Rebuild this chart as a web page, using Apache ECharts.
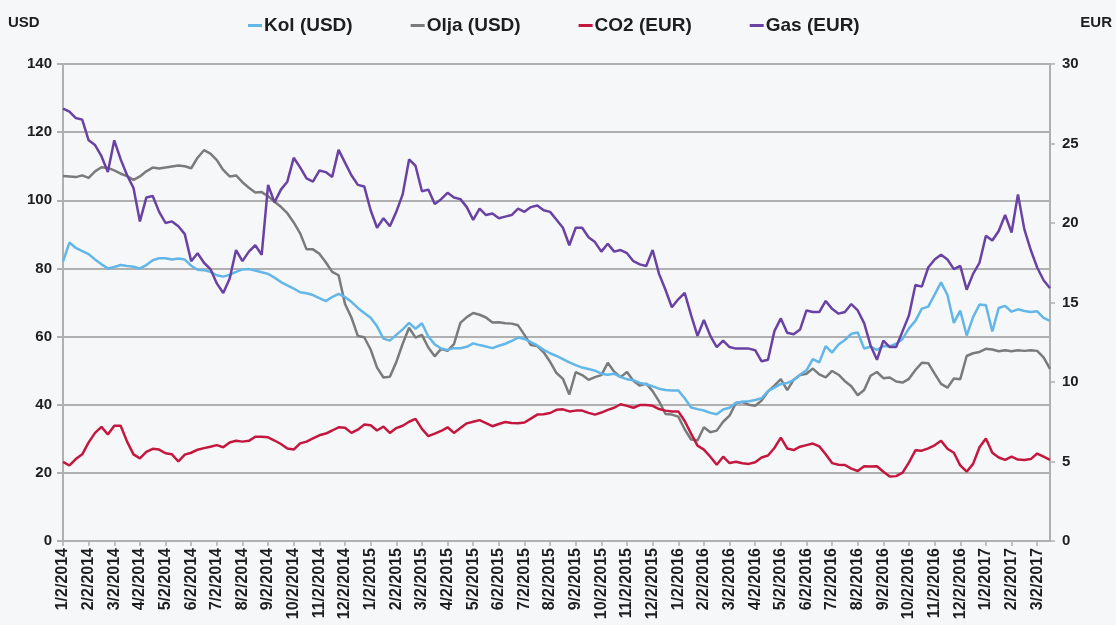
<!DOCTYPE html>
<html>
<head>
<meta charset="utf-8">
<script src="https://cdn.jsdelivr.net/npm/echarts@6/dist/echarts.min.js"></script>
<style>
html,body{margin:0;padding:0;background:#f6f7f9;}
#chart{width:1116px;height:625px;}
</style>
</head>
<body>
<div id="chart"></div>
<script>
// Month tick labels (one per month, first sample of each month)
const monthLabels = [
 '1/2/2014','2/2/2014','3/2/2014','4/2/2014','5/2/2014','6/2/2014','7/2/2014','8/2/2014','9/2/2014','10/2/2014','11/2/2014','12/2/2014',
 '1/2/2015','2/2/2015','3/2/2015','4/2/2015','5/2/2015','6/2/2015','7/2/2015','8/2/2015','9/2/2015','10/2/2015','11/2/2015','12/2/2015',
 '1/2/2016','2/2/2016','3/2/2016','4/2/2016','5/2/2016','6/2/2016','7/2/2016','8/2/2016','9/2/2016','10/2/2016','11/2/2016','12/2/2016',
 '1/2/2017','2/2/2017','3/2/2017'
];
// Sample days within each month (weekly samples)
const sampleDays = [2, 9, 16, 23];
const lastMonthSamples = 3;

// Kol (USD)
const kol = [
 82.0,87.6,86.0,85.1, 84.2,82.6,81.2,80.0, 80.4,81.0,80.7,80.5, 80.0,81.0,82.4,83.0,
 83.0,82.6,82.9,82.6, 80.8,79.6,79.5,79.0, 78.0,77.6,78.1,79.0, 79.7,79.8,79.4,78.9,
 78.4,77.3,76.0,75.0, 74.1,73.0,72.7,72.2, 71.3,70.4,71.6,72.5, 71.6,70.2,68.4,66.9,
 65.5,63.0,59.4,58.8, 60.5,62.1,64.0,62.3, 63.9,60.0,57.7,56.5, 56.1,56.6,56.6,57.0,
 58.0,57.5,57.1,56.6, 57.3,57.9,58.7,59.7, 59.3,58.4,57.4,56.1, 55.1,54.3,53.4,52.4,
 51.6,50.9,50.5,50.0, 49.1,48.8,49.1,48.1, 47.5,47.2,46.4,46.0, 45.4,44.7,44.3,44.2,
 44.2,41.9,39.2,38.7, 38.3,37.6,37.2,38.6, 39.1,40.6,40.9,41.0, 41.4,41.9,44.0,45.0,
 46.1,46.4,47.2,48.8, 50.1,53.4,52.4,57.2, 55.3,57.7,59.0,60.8, 61.2,56.5,57.0,56.1,
 57.2,57.1,57.9,59.3, 62.4,64.6,68.2,68.8, 72.3,75.9,72.2,64.0, 67.6,60.3,65.7,69.4,
 69.2,61.5,68.4,69.0, 67.3,68.0,67.5,67.2, 67.4,65.5,64.6
];
// Olja (USD)
const olja = [
 107.1,107.0,106.8,107.3, 106.6,108.5,109.7,109.5, 108.8,107.8,107.1,106.0, 107.0,108.5,109.6,109.3,
 109.6,109.9,110.2,110.0, 109.4,112.5,114.7,113.7, 111.8,108.9,107.0,107.3, 105.3,103.7,102.3,102.4,
 101.2,99.6,98.1,96.2, 93.5,90.3,85.6,85.6, 84.3,81.8,79.0,78.0, 69.6,65.6,60.2,59.8,
 56.2,50.9,48.0,48.2, 52.5,57.9,62.6,59.7, 60.5,56.8,54.2,56.4, 55.8,57.8,64.0,65.7,
 66.9,66.4,65.6,64.1, 64.2,63.9,63.8,63.3, 60.5,57.5,57.2,55.4, 52.6,49.3,47.6,43.0,
 49.6,48.7,47.3,48.1, 48.7,52.3,49.7,48.1, 49.6,47.0,45.6,46.2, 44.0,41.0,37.3,37.1,
 36.5,32.8,29.8,29.5, 33.4,31.9,32.4,35.0, 36.8,40.5,40.8,40.0, 39.7,41.2,43.9,45.6,
 47.5,44.3,47.3,48.7, 49.1,50.6,48.9,48.0, 49.9,48.8,46.9,45.4, 42.8,44.3,48.5,49.6,
 47.8,48.0,46.8,46.5, 47.6,50.2,52.3,52.2, 49.1,46.1,45.0,47.7, 47.5,54.3,55.1,55.5,
 56.4,56.2,55.7,56.0, 55.7,56.0,55.8,56.0, 55.8,53.9,50.5
];
// CO2 (EUR)
const co2 = [
 4.98,4.75,5.15,5.45, 6.2,6.8,7.18,6.7, 7.25,7.25,6.25,5.45, 5.2,5.6,5.8,5.75,
 5.52,5.45,5.0,5.43, 5.55,5.74,5.84,5.93, 6.03,5.9,6.2,6.3, 6.25,6.3,6.56,6.56,
 6.52,6.32,6.1,5.82, 5.75,6.14,6.25,6.45, 6.65,6.76,6.95,7.15, 7.12,6.8,7.0,7.32,
 7.28,6.95,7.2,6.8, 7.1,7.25,7.5,7.68, 7.05,6.6,6.75,6.92, 7.15,6.8,7.1,7.4,
 7.5,7.6,7.42,7.22, 7.36,7.48,7.42,7.4, 7.45,7.7,7.95,7.97, 8.05,8.25,8.28,8.15,
 8.2,8.2,8.06,7.95, 8.08,8.25,8.38,8.6, 8.5,8.38,8.55,8.55, 8.5,8.3,8.2,8.15,
 8.15,7.55,6.75,6.0, 5.75,5.3,4.8,5.3, 4.9,4.98,4.89,4.85, 4.95,5.25,5.38,5.85,
 6.5,5.82,5.72,5.93, 6.03,6.13,5.95,5.46, 4.9,4.8,4.78,4.55, 4.4,4.7,4.68,4.7,
 4.36,4.05,4.08,4.3, 4.95,5.7,5.68,5.83, 6.02,6.3,5.8,5.55, 4.75,4.36,4.85,5.9,
 6.45,5.55,5.25,5.1, 5.3,5.12,5.1,5.15, 5.5,5.3,5.1
];
// Gas (EUR)
const gas = [
 27.2,27.0,26.6,26.5, 25.2,24.9,24.2,23.2, 25.2,24.0,23.0,22.2, 20.1,21.6,21.7,20.7,
 20.0,20.1,19.8,19.3, 17.6,18.1,17.5,17.1, 16.2,15.6,16.5,18.3, 17.6,18.2,18.6,18.0,
 22.4,21.3,22.1,22.6, 24.1,23.5,22.8,22.6, 23.3,23.2,22.9,24.6, 23.8,23.0,22.4,22.3,
 20.8,19.7,20.3,19.8, 20.7,21.8,24.0,23.6, 22.0,22.1,21.2,21.5, 21.9,21.6,21.5,21.0,
 20.2,20.9,20.5,20.6, 20.3,20.4,20.5,20.9, 20.7,21.0,21.1,20.8, 20.7,20.2,19.7,18.6,
 19.7,19.7,19.1,18.8, 18.2,18.7,18.2,18.3, 18.1,17.6,17.4,17.3, 18.3,16.8,15.8,14.7,
 15.2,15.6,14.2,12.9, 13.9,12.9,12.2,12.6, 12.2,12.1,12.1,12.1, 12.0,11.3,11.4,13.2,
 14.0,13.1,13.0,13.3, 14.5,14.4,14.4,15.1, 14.6,14.3,14.4,14.9, 14.5,13.7,12.3,11.4,
 12.6,12.2,12.2,13.2, 14.2,16.1,16.0,17.2, 17.7,18.0,17.7,17.1, 17.3,15.8,16.8,17.5,
 19.2,18.9,19.5,20.5, 19.4,21.8,19.6,18.3, 17.2,16.4,15.9
];

// Build category list: each month label followed by its weekly samples
const categories = [];
monthLabels.forEach(function (lab, mi) {
  const parts = lab.split('/');
  const n = (mi === monthLabels.length - 1) ? lastMonthSamples : sampleDays.length;
  for (let k = 0; k < n; k++) {
    categories.push(parts[0] + '/' + sampleDays[k] + '/' + parts[2]);
  }
});

const FONT = '"Liberation Sans", Arial, sans-serif';
const TXT = '#1e1e1e';
const GRID = '#b0b0b0';

const chart = echarts.init(document.getElementById('chart'), null, {renderer: 'canvas'});
chart.setOption({
  backgroundColor: '#f6f7f9',
  animation: false,
  textStyle: {fontFamily: FONT},
  title: [
    {text: 'USD', left: 8, top: 15, padding: 0, textStyle: {fontSize: 15, fontWeight: 'bold', color: TXT, fontFamily: FONT}},
    {text: 'EUR', right: 4, top: 15, padding: 0, textStyle: {fontSize: 15, fontWeight: 'bold', color: TXT, fontFamily: FONT}}
  ],
  legend: {
    top: 16,
    left: 248,
    padding: 0,
    icon: 'rect',
    itemWidth: 14,
    itemHeight: 3,
    itemGap: 58,
    textStyle: {fontSize: 19, fontWeight: 'bold', color: TXT, fontFamily: FONT, padding: [0,0,0,-3]},
    data: ['Kol (USD)', 'Olja (USD)', 'CO2 (EUR)', 'Gas (EUR)']
  },
  grid: {left: 63, right: 66, top: 64, bottom: 84, containLabel: false},
  xAxis: {
    type: 'category',
    data: categories,
    boundaryGap: false,
    axisLine: {show: true, lineStyle: {color: GRID, width: 2}},
    axisTick: {show: true, interval: 3, length: 5, lineStyle: {color: GRID, width: 1.5}},
    axisLabel: {interval: 3, rotate: 90, fontSize: 16, fontWeight: 'bold', color: TXT, margin: 7, fontFamily: FONT},
    splitLine: {show: false}
  },
  yAxis: [
    {
      type: 'value', min: 0, max: 140, interval: 20, position: 'left',
      axisLine: {show: true, lineStyle: {color: GRID, width: 2}},
      axisTick: {show: true, length: 6, lineStyle: {color: GRID, width: 2}},
      axisLabel: {fontSize: 15, fontWeight: 'bold', color: TXT, margin: 11, fontFamily: FONT},
      splitLine: {show: true, lineStyle: {color: GRID, width: 2}}
    },
    {
      type: 'value', min: 0, max: 30, interval: 5, position: 'right',
      axisLine: {show: true, lineStyle: {color: GRID, width: 2}},
      axisTick: {show: true, length: 5, lineStyle: {color: GRID, width: 1.5}},
      axisLabel: {fontSize: 15, fontWeight: 'bold', color: TXT, margin: 12, fontFamily: FONT},
      splitLine: {show: false}
    }
  ],
  series: [
    {name: 'Kol (USD)', type: 'line', yAxisIndex: 0, data: kol, showSymbol: false, symbol: 'none',
     lineStyle: {color: '#63b6e8', width: 2.5}, itemStyle: {color: '#63b6e8'}, z: 3},
    {name: 'Olja (USD)', type: 'line', yAxisIndex: 0, data: olja, showSymbol: false, symbol: 'none',
     lineStyle: {color: '#7b7b7b', width: 2.5}, itemStyle: {color: '#7b7b7b'}, z: 2},
    {name: 'CO2 (EUR)', type: 'line', yAxisIndex: 1, data: co2, showSymbol: false, symbol: 'none',
     lineStyle: {color: '#c4173e', width: 2.5}, itemStyle: {color: '#c4173e'}, z: 4},
    {name: 'Gas (EUR)', type: 'line', yAxisIndex: 1, data: gas, showSymbol: false, symbol: 'none',
     lineStyle: {color: '#6a42a3', width: 2.5}, itemStyle: {color: '#6a42a3'}, z: 5}
  ]
});
</script>
</body>
</html>
